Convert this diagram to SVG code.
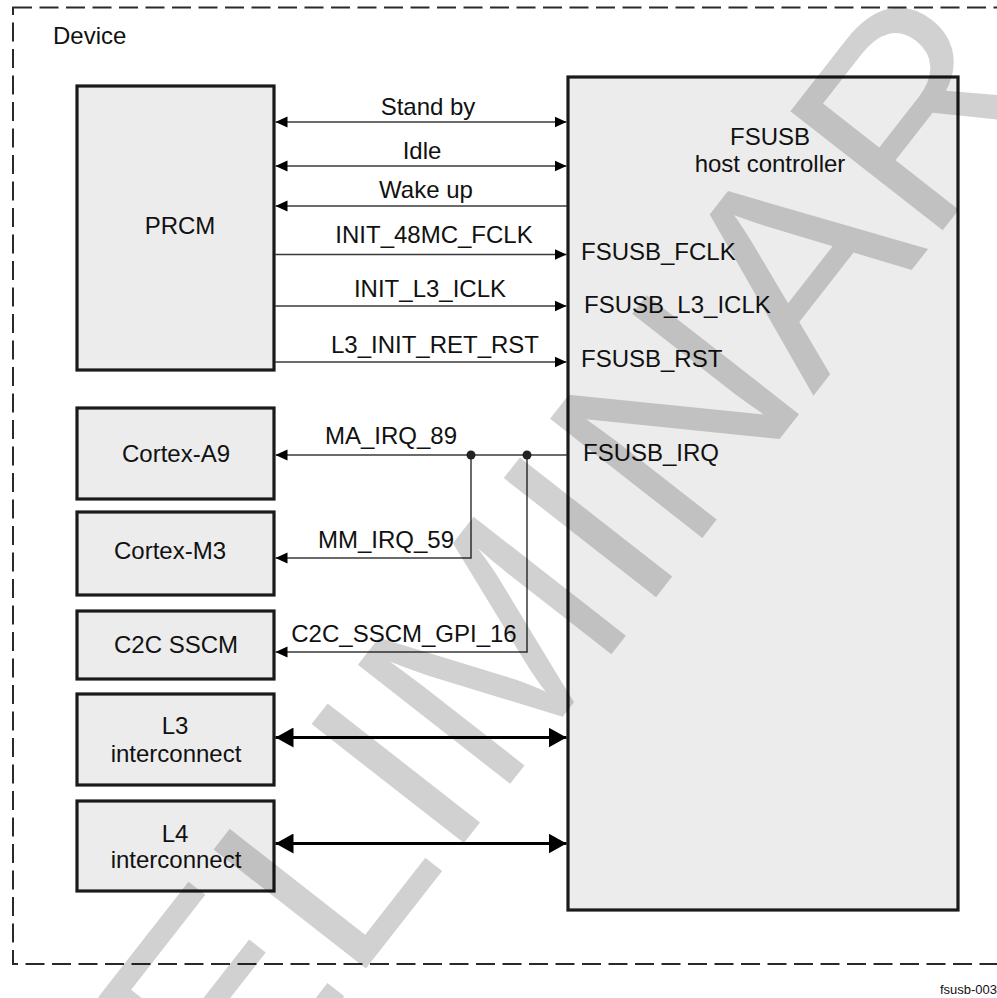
<svg xmlns="http://www.w3.org/2000/svg" width="997" height="998" viewBox="0 0 997 998">
<style>
text{font-family:"Liberation Sans",Arial,sans-serif;font-size:24px;fill:#111}
.mid{text-anchor:middle}
.box{fill:#ececec;stroke:#1a1a1a;stroke-width:3.2}
.sig{fill:none;stroke:#3a3a3a;stroke-width:1.5}
.bus{fill:none;stroke:#000;stroke-width:3.2}
.wm{font-size:281px;fill:#000;fill-opacity:0.18}
</style>
<defs>
<marker id="ah" markerUnits="userSpaceOnUse" markerWidth="12" markerHeight="12" refX="12" refY="6" orient="auto-start-reverse">
<path d="M0,0.5 L12,6 L0,11.5 z" fill="#000"/>
</marker>
<marker id="ahb" markerUnits="userSpaceOnUse" markerWidth="18" markerHeight="20" refX="18" refY="10" orient="auto-start-reverse">
<path d="M0,0 L18,10 L0,20 z" fill="#000"/>
</marker>
</defs>
<rect width="997" height="998" fill="#fff"/>
<g id="device">
<rect x="13" y="7.5" width="995" height="956.5" fill="none" stroke="#2a2a2a" stroke-width="2" stroke-dasharray="19,7.5"/>
<text x="53" y="44">Device</text>
</g>
<g id="prcm">
<rect class="box" x="77" y="86" width="197" height="284"/>
<text class="mid" x="180" y="234">PRCM</text>
</g>
<g id="fsusb">
<rect class="box" x="568" y="77" width="390" height="833"/>
<text class="mid" x="770" y="145">FSUSB</text>
<text class="mid" x="770" y="172">host controller</text>
<text x="581" y="260">FSUSB_FCLK</text>
<text x="584" y="313">FSUSB_L3_ICLK</text>
<text x="581" y="367">FSUSB_RST</text>
<text x="583" y="461">FSUSB_IRQ</text>
</g>
<g id="cortex-a9">
<rect class="box" x="77" y="408" width="197" height="91"/>
<text class="mid" x="176" y="462">Cortex-A9</text>
</g>
<g id="cortex-m3">
<rect class="box" x="77" y="512" width="197" height="83"/>
<text class="mid" x="170" y="559">Cortex-M3</text>
</g>
<g id="c2c-sscm">
<rect class="box" x="77" y="611" width="197" height="68"/>
<text class="mid" x="176" y="653">C2C SSCM</text>
</g>
<g id="l3">
<rect class="box" x="77" y="694" width="197" height="91"/>
<text class="mid" x="175" y="734">L3</text>
<text class="mid" x="176" y="762">interconnect</text>
</g>
<g id="l4">
<rect class="box" x="77" y="801" width="197" height="90"/>
<text class="mid" x="175" y="842">L4</text>
<text class="mid" x="176" y="868">interconnect</text>
</g>
<g id="connectors">
<line class="sig" x1="275.5" y1="122" x2="566.5" y2="122" marker-start="url(#ah)" marker-end="url(#ah)"/>
<text class="mid" x="428" y="114.5">Stand by</text>
<line class="sig" x1="275.5" y1="166" x2="566.5" y2="166" marker-start="url(#ah)" marker-end="url(#ah)"/>
<text class="mid" x="422" y="159">Idle</text>
<line class="sig" x1="567" y1="206" x2="275.5" y2="206" marker-end="url(#ah)"/>
<text class="mid" x="426" y="198">Wake up</text>
<line class="sig" x1="275" y1="254.5" x2="566.5" y2="254.5" marker-end="url(#ah)"/>
<text class="mid" x="434" y="243">INIT_48MC_FCLK</text>
<line class="sig" x1="275" y1="306" x2="566.5" y2="306" marker-end="url(#ah)"/>
<text class="mid" x="430" y="297">INIT_L3_ICLK</text>
<line class="sig" x1="275" y1="362" x2="566.5" y2="362" marker-end="url(#ah)"/>
<text class="mid" x="435" y="353">L3_INIT_RET_RST</text>
<line class="sig" x1="567" y1="455" x2="275.5" y2="455" marker-end="url(#ah)"/>
<text class="mid" x="391" y="444">MA_IRQ_89</text>
<path class="sig" d="M471,455 V558 H275.5" marker-end="url(#ah)"/>
<text class="mid" x="386" y="548">MM_IRQ_59</text>
<path class="sig" d="M527,455 V652 H275.5" marker-end="url(#ah)"/>
<text class="mid" x="404" y="642">C2C_SSCM_GPI_16</text>
<circle cx="471" cy="455" r="4.5" fill="#222"/>
<circle cx="527" cy="455" r="4.5" fill="#222"/>
<line class="bus" x1="275.5" y1="737.5" x2="566.5" y2="737.5" marker-start="url(#ahb)" marker-end="url(#ahb)"/>
<line class="bus" x1="275.5" y1="843.5" x2="566.5" y2="843.5" marker-start="url(#ahb)" marker-end="url(#ahb)"/>
</g>
<text x="997" y="994" style="font-size:13px;text-anchor:end">fsusb-003</text>
<text class="wm" transform="translate(-4,1442) rotate(-52)">PRELIMINARY</text>
</svg>
